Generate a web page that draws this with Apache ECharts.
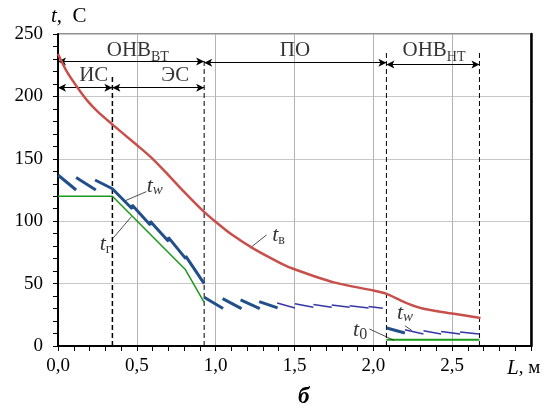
<!DOCTYPE html>
<html><head><meta charset="utf-8">
<script src="https://cdn.jsdelivr.net/npm/echarts@6/dist/echarts.min.js"></script>
<style>html,body{margin:0;padding:0;background:#fff}#c{width:548px;height:407px}</style>
</head><body><div id="c"></div>
<script>
const FONT = 'Liberation Serif';

// Axis ticks
const xTicks = [0, 0.5, 1.0, 1.5, 2.0, 2.5, 3.0];
const yTicks = [0, 50, 100, 150, 200, 250];

// Air temperature t_в (red)
const tvX = [0, 0.06, 0.13, 0.19, 0.25, 0.35, 0.5, 0.6, 0.7, 0.8, 0.93, 1.0, 1.1, 1.24, 1.41, 1.5, 1.75, 2.0, 2.08, 2.2, 2.3, 2.5, 2.68];
const tvY = [234, 219, 206, 196, 188, 177, 161, 150, 137, 123.5, 107, 99.5, 89.5, 78, 66.5, 61.5, 51, 44.5, 42, 35, 30.5, 26, 22.5];

// Gas / refrigerant temperature t_г (green) and t_0
const tgX = [0, 0.345, 0.806, 0.927];
const tgY = [120, 120, 61.5, 35];
const t0X = [2.083, 2.673];
const t0Y = [5, 5];

// Wall temperature t_w, thick segments
const twThickSegX = [[0, 0.115], [0.115, 0.24], [0.235, 0.345, 0.47, 0.47, 0.585, 0.585, 0.70, 0.70, 0.81, 0.81, 0.927], [0.927, 1.047], [1.044, 1.164], [1.158, 1.28], [1.276, 1.393], [2.085, 2.2]];
const twThickSegY = [[137, 125], [135, 125], [133, 126, 110, 113, 97, 100, 84, 87, 70, 72, 50], [39, 30], [38, 30], [37, 30], [35.5, 30.5], [14.4, 10.4]];
// Wall temperature t_w, thin segments
const twThinSegX = [[1.39, 1.503], [1.503, 1.62], [1.62, 1.736], [1.736, 1.85], [1.85, 1.97], [1.97, 2.06], [2.2, 2.318], [2.318, 2.43], [2.43, 2.55], [2.55, 2.67]];
const twThinSegY = [[34.4, 30.5], [33.8, 31], [33.3, 31], [32.8, 31], [32.2, 30.5], [31.7, 30.2], [13, 9.6], [12.2, 9.6], [11.7, 9.6], [11.2, 9.6]];

// Zone boundaries (dashed verticals)
const vX = [0.345, 0.927, 2.083, 2.673];
const vTop = [216, 229, 236, 236];

// Zone arrows
const arrFrom = [0, 0.927, 2.083, 0, 0.345];
const arrTo = [0.927, 2.083, 2.673, 0.345, 0.927];
const arrY = [228, 227, 225.6, 207, 207];

// Zone labels
const regTexts = ['{m|ОНВ}{s|ВТ}', '{m|ПО}', '{m|ОНВ}{s|НТ}', '{m|ИС}', '{m|ЭС}'];
const regX = [0.506, 1.503, 2.385, 0.227, 0.744];
const regY = [237, 237, 237, 217, 217];

// Curve labels
const tLabTexts = ['{t|t}{w|w}', '{t|t}{s|г}', '{t|t}{s|в}', '{t|t}{w|w}', '{t|t}{z|0}'];
const tLabX = [0.614, 0.302, 1.399, 2.201, 1.916];
const tLabY = [128.3, 81.8, 89, 26.4, 12.3];
const leadFromX = [0.413, 0.349, 1.217, 2.201, 1.975];
const leadFromY = [115.7, 86.4, 78.4, 16.2, 13.6];
const leadToX = [0.561, 0.466, 1.323, 2.244, 2.132];
const leadToY = [123.7, 103.7, 89, 12.5, 4.5];

const zip = (xs, ys) => xs.map((x, i) => [x, ys[i]]);

const chart = echarts.init(document.getElementById('c'));

const series = [];
series.push({type: 'line', data: zip(tvX, tvY), smooth: 0.3, showSymbol: false, symbol: 'none',
  lineStyle: {color: '#c8504b', width: 2.5}, z: 5});
series.push({type: 'line', data: zip(tgX, tgY), showSymbol: false, symbol: 'none',
  lineStyle: {color: '#1a9a1a', width: 1.5}, z: 4,
  markLine: {silent: true, animation: false, symbol: ['arrow', 'arrow'], symbolSize: [6, 8],
    label: {show: false}, lineStyle: {color: '#000', width: 1, type: 'solid'},
    data: arrFrom.map((a, i) => [{coord: [a, arrY[i]]}, {coord: [arrTo[i], arrY[i]]}])}});
series.push({type: 'line', data: zip(t0X, t0Y), showSymbol: false, symbol: 'none',
  lineStyle: {color: '#1a9a1a', width: 2}, z: 4,
  markLine: {silent: true, animation: false, symbol: ['none', 'none'],
    label: {show: false}, lineStyle: {color: '#222', width: 0.8, type: 'solid'},
    data: leadFromX.map((a, i) => [{coord: [a, leadFromY[i]]}, {coord: [leadToX[i], leadToY[i]]}])}});
twThickSegX.forEach((xs, i) => series.push({type: 'line', data: zip(xs, twThickSegY[i]), symbol: 'none',
  lineStyle: {color: '#214f8a', width: 3}, z: 6}));
twThinSegX.forEach((xs, i) => series.push({type: 'line', data: zip(xs, twThinSegY[i]), symbol: 'none',
  lineStyle: {color: '#3535a8', width: 1.5}, z: 6}));
vX.forEach((x, i) => series.push({type: 'line', data: [[x, 0], [x, vTop[i]]], symbol: 'none',
  lineStyle: {color: '#000', width: i === 0 ? 1.5 : 1, type: [5, 3]}, z: 3}));

const richReg = {
  m: {fontFamily: FONT, fontSize: 21, color: '#000', lineHeight: 28},
  s: {fontFamily: FONT, fontSize: 14, color: '#000', lineHeight: 14, verticalAlign: 'bottom'}
};
series.push({type: 'scatter', symbolSize: 0, silent: true, z: 10,
  data: regX.map((x, i) => ({value: [x, regY[i]], label: {formatter: regTexts[i]}})),
  label: {show: true, position: 'inside', align: 'center', verticalAlign: 'middle', fontFamily: FONT, rich: richReg}});
const richT = {
  t: {fontFamily: FONT, fontSize: 22, fontStyle: 'italic', color: '#000', lineHeight: 24},
  w: {fontFamily: FONT, fontSize: 15, fontStyle: 'italic', color: '#000', lineHeight: 14, verticalAlign: 'bottom'},
  s: {fontFamily: FONT, fontSize: 14, color: '#000', lineHeight: 14, verticalAlign: 'bottom'},
  z: {fontFamily: FONT, fontSize: 16, color: '#000', lineHeight: 18, verticalAlign: 'bottom'}
};
series.push({type: 'scatter', symbolSize: 0, silent: true, z: 10,
  data: tLabX.map((x, i) => ({value: [x, tLabY[i]], label: {formatter: tLabTexts[i]}})),
  label: {show: true, position: 'inside', align: 'center', verticalAlign: 'middle', fontFamily: FONT, rich: richT}});

chart.setOption({
  animation: false,
  backgroundColor: '#fff',
  textStyle: {fontFamily: FONT},
  grid: {left: 58, right: 17, top: 34, bottom: 61, show: true, borderColor: '#222', borderWidth: 1},
  xAxis: {type: 'value', min: xTicks[0], max: xTicks[xTicks.length - 1], interval: 0.5,
    axisLine: {show: true, onZero: false, lineStyle: {color: '#000', width: 2}},
    axisTick: {show: true, length: 5, lineStyle: {color: '#000', width: 1}},
    minorTick: {show: true, splitNumber: 5, length: 5, lineStyle: {color: '#000', width: 1}},
    splitLine: {show: true, lineStyle: {color: '#b4b4b4', width: 1}},
    axisLabel: {margin: 11, fontFamily: FONT, fontSize: 19, color: '#000',
      formatter: v => (v >= 2.99 ? '' : v.toFixed(1).replace('.', ','))}},
  yAxis: [{type: 'value', min: yTicks[0], max: yTicks[yTicks.length - 1], interval: 50,
    axisLine: {show: true, lineStyle: {color: '#000', width: 2}},
    axisTick: {show: true, length: 5, lineStyle: {color: '#000', width: 1}},
    minorTick: {show: true, splitNumber: 5, length: 5, lineStyle: {color: '#000', width: 1}},
    splitLine: {show: true, lineStyle: {color: '#c8c8c8', width: 1}},
    axisLabel: {margin: 15, fontFamily: FONT, fontSize: 19, color: '#000'}},
   {type: 'value', position: 'right', min: 0, max: 250, interval: 50,
    axisLine: {show: true, lineStyle: {color: '#000', width: 2.5}},
    axisTick: {show: false}, axisLabel: {show: false}, splitLine: {show: false}}],
  graphic: [
    {type: 'text', left: 51, top: 6, style: {text: '{i|t},  {n|C}', fill: '#000', fontFamily: FONT, fontSize: 21,
      rich: {i: {fontFamily: FONT, fontSize: 21, fontStyle: 'italic'}, n: {fontFamily: FONT, fontSize: 21}}}},
    {type: 'text', left: 507, top: 358, style: {text: '{i|L}{n|, м}', fill: '#000', fontFamily: FONT, fontSize: 19,
      rich: {i: {fontFamily: FONT, fontSize: 21, fontStyle: 'italic'}, n: {fontFamily: FONT, fontSize: 19}}}},
    {type: 'text', left: 298, top: 386, style: {text: 'б', fontFamily: FONT, fontSize: 23, fontStyle: 'italic', fontWeight: 'bold', fill: '#000'}}
  ],
  series: series
});
</script></body></html>
